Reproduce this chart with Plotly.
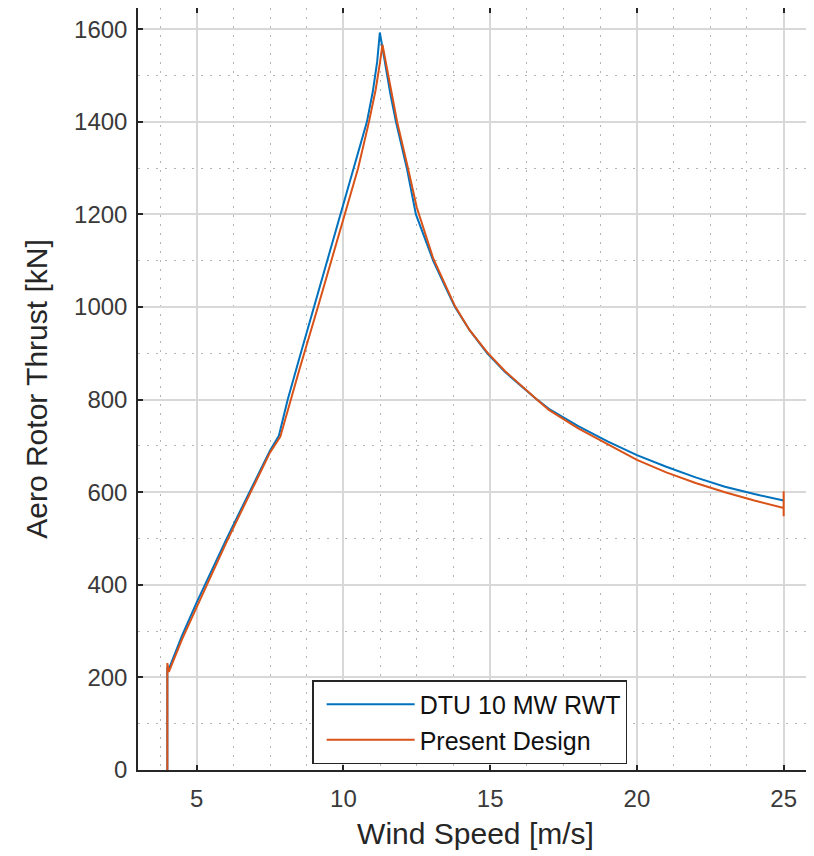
import plotly.graph_objects as go

# Wind speed [m/s] and aero rotor thrust [kN]
dtu_wind = [4.0, 4.0, 4.05, 4.5, 5.0, 5.5, 6.0, 6.5, 7.0, 7.5, 7.8, 8.1, 8.5, 9.0, 9.5,
            10.0, 10.5, 10.8, 11.0, 11.15, 11.24, 11.4, 11.6, 11.79, 12.16, 12.47, 13.06,
            13.5, 13.8, 14.3, 14.9, 15.5, 16.0, 16.6, 17.0, 18.0, 19.0, 20.0, 21.0, 22.0,
            23.0, 24.0, 25.0]
dtu_thrust = [0, 222, 218, 290, 362, 430, 497, 562, 627, 690, 722, 800, 890, 1000, 1110,
              1222, 1335, 1400, 1465, 1530, 1593, 1530, 1460, 1400, 1300, 1200, 1100,
              1040, 1000, 950, 900, 860, 832, 800, 780, 743, 710, 680, 655, 632,
              612, 596, 582]

new_wind = [4.0, 4.0, 4.05, 4.5, 5.0, 5.5, 6.0, 6.5, 7.0, 7.5, 7.85, 8.2, 8.5, 9.13, 9.5,
            10.0, 10.5, 10.87, 11.1, 11.25, 11.33, 11.5, 11.65, 11.83, 12.2, 12.5, 13.06,
            13.5, 13.8, 14.3, 14.9, 15.5, 16.0, 16.6, 17.0, 18.0, 19.0, 20.0, 21.0, 22.0,
            23.0, 24.0, 25.0, 25.0, 25.0]
new_thrust = [0, 231, 212, 282, 352, 422, 490, 556, 622, 686, 720, 800, 865, 1000, 1080,
              1190, 1300, 1400, 1470, 1530, 1567, 1510, 1460, 1400, 1300, 1215, 1105,
              1045, 1002, 950, 902, 862, 833, 800, 778, 738, 704, 670, 643, 620,
              600, 582, 566, 602, 548]

series_names = ["DTU 10 MW RWT", "Present Design"]
x_ticks = [5, 10, 15, 20, 25]
y_ticks = [0, 200, 400, 600, 800, 1000, 1200, 1400, 1600]

FONT = "Liberation Sans, Arial, Helvetica, sans-serif"
DARK = "#262626"

fig = go.Figure()
fig.add_trace(go.Scatter(x=dtu_wind, y=dtu_thrust, mode="lines", name=series_names[0],
                         line=dict(color="#0072BD", width=2)))
fig.add_trace(go.Scatter(x=new_wind, y=new_thrust, mode="lines", name=series_names[1],
                         line=dict(color="#D95319", width=2)))

axis_common = dict(
    showline=True, linecolor=DARK, linewidth=1.5, mirror="ticks",
    ticks="inside", ticklen=5, tickwidth=1.5, tickcolor=DARK,
    showgrid=True, gridcolor="#d8d8d8", gridwidth=1.5,
    zeroline=False, automargin=False,
    tickfont=dict(family=FONT, size=24, color="#3a3a3a"),
)

fig.update_xaxes(
    range=[3, 26], tickmode="array", tickvals=x_ticks,
    ticktext=[str(v) for v in x_ticks],
    ticklabelstandoff=6,
    minor=dict(dtick=1.25, tick0=0, showgrid=True, gridcolor="#b4b4b4",
               griddash="1.5px,7.5px", gridwidth=1.3),
    title=dict(text="Wind Speed [m/s]", font=dict(family=FONT, size=30, color=DARK),
               standoff=12),
    **axis_common,
)
fig.update_yaxes(
    range=[0, 1646], tickmode="array", tickvals=y_ticks,
    ticktext=[str(v) for v in y_ticks],
    ticklabelstandoff=4,
    minor=dict(dtick=100, tick0=0, showgrid=True, gridcolor="#b4b4b4",
               griddash="1.5px,7.5px", gridwidth=1.3),
    title=dict(text="Aero Rotor Thrust [kN]", font=dict(family=FONT, size=30, color=DARK),
               standoff=18),
    **axis_common,
)

fig.update_layout(
    width=806, height=848,
    margin=dict(l=130, r=1, t=0, b=86),
    paper_bgcolor="white", plot_bgcolor="white",
    showlegend=True,
    legend=dict(
        x=0.258, y=0.118, xanchor="left", yanchor="top",
        bgcolor="white", bordercolor=DARK, borderwidth=1.5,
        font=dict(family=FONT, size=25, color="#111111"),
        itemwidth=88, indentation=8, tracegroupgap=0,
        entrywidth=225, entrywidthmode="pixels",
    ),
)

fig.write_html("out.html")
